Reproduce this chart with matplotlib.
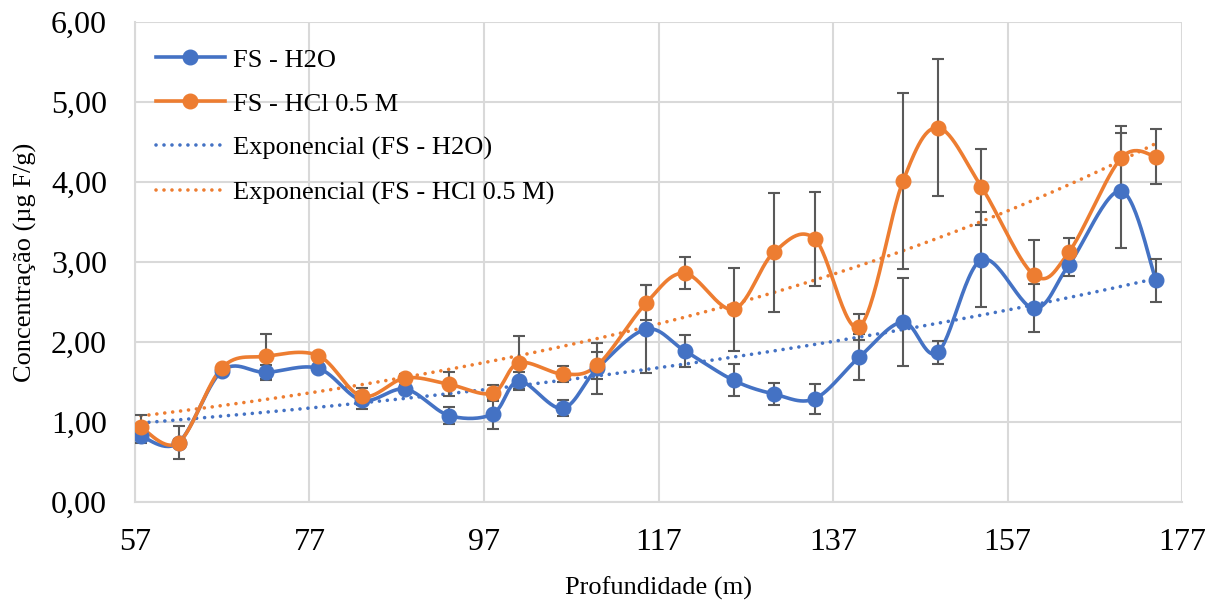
import matplotlib
matplotlib.use("Agg")
import matplotlib.pyplot as plt
import numpy as np

# depth (m) and concentrations
depth = [57.7, 62, 67, 72, 78, 83, 88, 93, 98, 101, 106, 110, 115.6, 120,
         125.6, 130.2, 134.9, 140, 145, 149, 154, 160, 164, 170, 174]
h2o = [0.82, 0.74, 1.64, 1.62, 1.67, 1.27, 1.41, 1.08, 1.10, 1.51, 1.17, 1.67, 2.16, 1.89,
       1.52, 1.35, 1.29, 1.81, 2.25, 1.87, 3.03, 2.42, 2.96, 3.89, 2.77]
h2o_err = [0.09, 0.21, 0.03, 0.09, 0.03, 0.11, 0.05, 0.11, 0.19, 0.11, 0.10, 0.32, 0.55, 0.20,
           0.20, 0.14, 0.19, 0.29, 0.55, 0.14, 0.59, 0.30, 0.14, 0.72, 0.27]
hcl = [0.93, 0.74, 1.68, 1.82, 1.83, 1.32, 1.55, 1.47, 1.36, 1.74, 1.60, 1.71, 2.49, 2.86,
       2.41, 3.12, 3.29, 2.19, 4.01, 4.68, 3.94, 2.84, 3.12, 4.30, 4.32]
hcl_err = [0.16, 0.05, 0.03, 0.28, 0.03, 0.11, 0.05, 0.15, 0.10, 0.33, 0.10, 0.17, 0.22, 0.20,
           0.52, 0.74, 0.59, 0.16, 1.10, 0.86, 0.48, 0.44, 0.18, 0.40, 0.34]

BLUE = "#4472C4"
ORANGE = "#ED7D31"
ERR = "#595959"
GRID = "#d9d9d9"

plt.rcParams["font.family"] = ["Liberation Serif", "DejaVu Serif"]


def excel_smooth(x, y, n=30):
    # bezier smoothing like Excel's "smoothed line"
    pts = np.column_stack([x, y]).astype(float)
    out = []
    for i in range(len(pts) - 1):
        p0 = pts[max(i - 1, 0)]
        p1 = pts[i]
        p2 = pts[i + 1]
        p3 = pts[min(i + 2, len(pts) - 1)]
        c1 = p1 + (p2 - p0) / 6
        c2 = p2 - (p3 - p1) / 6
        t = np.linspace(0, 1, n)[:, None]
        seg = (1 - t) ** 3 * p1 + 3 * (1 - t) ** 2 * t * c1 + 3 * (1 - t) * t ** 2 * c2 + t ** 3 * p2
        out.append(seg if i == 0 else seg[1:])
    return np.vstack(out)


def exp_trend(x, y):
    b, a = np.polyfit(x, np.log(y), 1)
    xs = np.linspace(min(x), max(x), 200)
    return xs, np.exp(a + b * xs)


fig = plt.figure(figsize=(12.15, 6.01), dpi=100)
ax = fig.add_axes([0.111, 0.165, 0.862, 0.798])

dots = dict(lw=2.6, linestyle=(0, (0.01, 2.2)), dash_capstyle="round")

for ys, err, color, label in [(h2o, h2o_err, BLUE, "FS - H2O"),
                              (hcl, hcl_err, ORANGE, "FS - HCl 0.5 M")]:
    sm = excel_smooth(depth, ys)
    ax.plot(sm[:, 0], sm[:, 1], color=color, lw=2.6, zorder=3)
    ax.errorbar(depth, ys, yerr=err, fmt="none", ecolor=ERR, elinewidth=1.5,
                capsize=4.5, capthick=1.5, zorder=4)
    ax.plot(depth, ys, "o", color=color, ms=10.5, zorder=5)
    # legend handle
    ax.plot([], [], color=color, lw=2.6, marker="o", ms=10.5, label=label)

for ys, color, label in [(h2o, BLUE, "Exponencial (FS - H2O)"),
                         (hcl, ORANGE, "Exponencial (FS - HCl 0.5 M)")]:
    xs, yt = exp_trend(depth, ys)
    ax.plot(xs, yt, color=color, zorder=2, label=label, **dots)

ax.set_xlim(57, 177)
ax.set_ylim(0, 6)
ax.set_xticks(np.arange(57, 178, 20))
ax.set_yticks(np.arange(0, 6.01, 1))
ax.set_yticklabels([f"{v:.2f}".replace(".", ",") for v in np.arange(0, 6.01, 1)])
ax.tick_params(length=0, labelsize=23)
ax.tick_params(axis="y", pad=20)
ax.tick_params(axis="x", pad=19)

ax.grid(True, color=GRID, lw=1.5)
ax.set_axisbelow(True)
for s in ["top", "right"]:
    ax.spines[s].set_visible(False)
for s in ["left", "bottom"]:
    ax.spines[s].set_color(GRID)
    ax.spines[s].set_linewidth(1.5)

ax.set_xlabel("Profundidade (m)", fontsize=19, labelpad=14)
ax.set_ylabel("Concentração (µg F/g)", fontsize=19, labelpad=10)

ax.legend(loc="upper left", bbox_to_anchor=(0.0, 0.99), frameon=False, fontsize=19,
          handlelength=2.6, handletextpad=0.3, labelspacing=0.78, borderaxespad=0.4)

fig.savefig("out.png", dpi=100)
